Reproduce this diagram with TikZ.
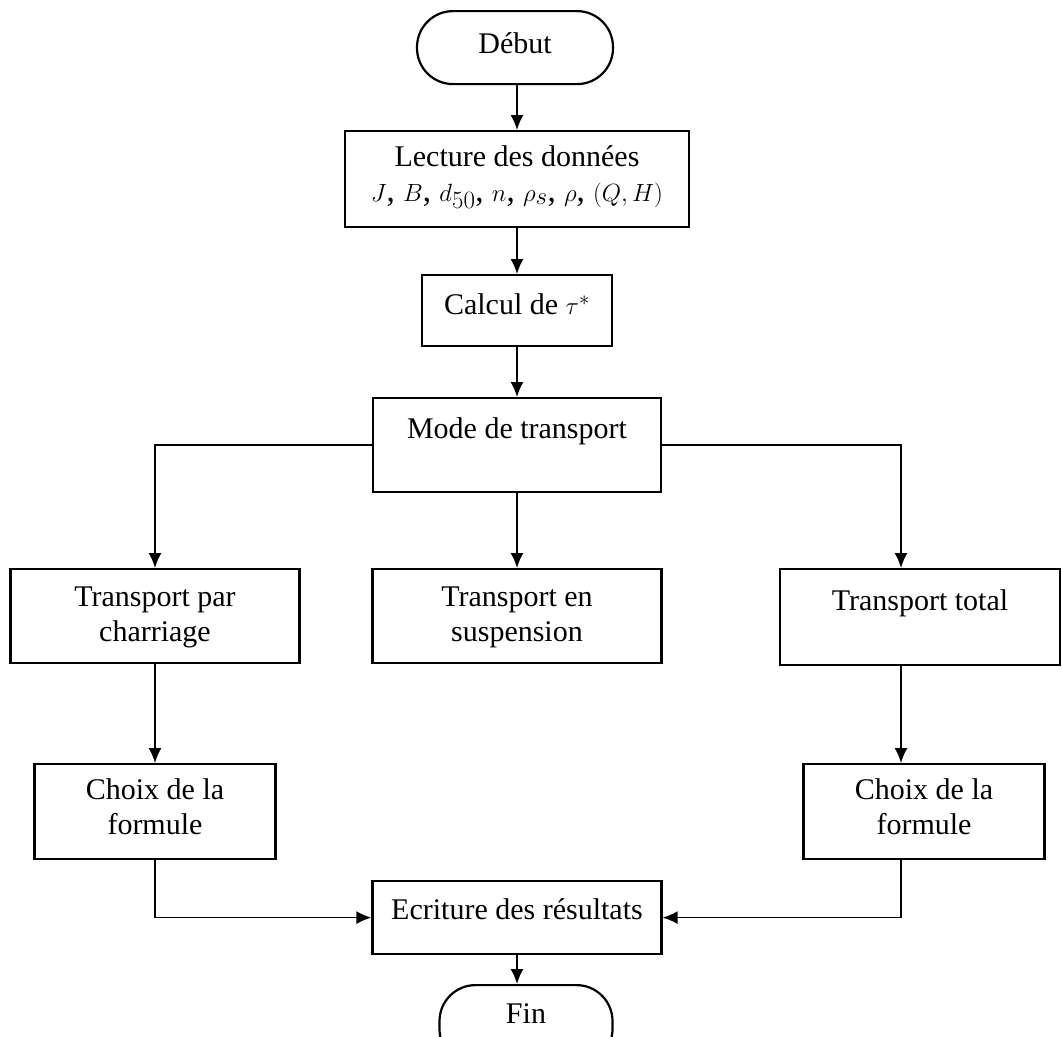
\documentclass[tikz,border=0pt]{standalone}
\usepackage{fontspec}
\setmainfont{Liberation Serif}
\usetikzlibrary{arrows.meta}
\begin{document}
\begin{tikzpicture}[x=1pt, y=-1pt,
    font=\fontsize{30}{35}\selectfont,
    blk/.style 2 args={draw, line width=2.2pt, inner sep=0pt, align=center,
      anchor=north, text height=#1, text depth=#2},
    term/.style 2 args={blk={#1}{#2}, rounded corners=36pt},
    arr/.style={line width=1.7pt, -{Latex[length=15pt,width=13pt]}}]

    \path[use as bounding box, clip] (0,0) rectangle (1062,1036);

    \node[term={42pt}{31pt}, minimum width=196pt] (debut) at (515,10) {Début};
    \node[blk={70pt}{26pt}, minimum width=344pt] (lecture) at (517,130)
        {Lecture des données\\ \fontsize{33}{35}\selectfont $J$, $B$, $d_{50}$, $n$, $\rho_s$, $\rho$, $(Q,H)$};
    \node[blk={39pt}{32pt}, minimum width=190pt] (calc) at (517,274) {Calcul de $\tau^*$};
    \node[blk={40pt}{54pt}, minimum width=288pt] (mode) at (517,397) {Mode de transport};

    \node[blk={72pt}{22pt}, minimum width=289pt] (charr) at (155,568) {Transport par\\ charriage};
    \node[blk={72pt}{22pt}, minimum width=289pt] (susp) at (517,568) {Transport en\\ suspension};
    \node[blk={41pt}{55pt}, minimum width=280pt] (total) at (920,568) {Transport total};

    \node[blk={70pt}{25pt}, minimum width=241pt] (choixL) at (155,763) {Choix de la\\ formule};
    \node[blk={70pt}{25pt}, minimum width=241pt] (choixR) at (924,763) {Choix de la\\ formule};

    \node[blk={38pt}{35pt}, minimum width=289pt] (ecr) at (517,880) {Ecriture des résultats};
    \node[term={38pt}{42pt}, minimum width=173pt] (fin) at (526,984) {Fin};

    \coordinate (rcol) at (901,0);

    \draw[arr] (lecture.north |- debut.south) -- (lecture.north);
    \draw[arr] (lecture) -- (calc);
    \draw[arr] (calc) -- (mode);
    \draw[arr] (mode) -- (susp);
    \draw[arr] (mode.west) -| (charr.north);
    \draw[arr] (mode.east) -| (total.north -| rcol);
    \draw[arr] (charr) -- (choixL);
    \draw[arr] (total.south -| rcol) -- (choixR.north -| rcol);
    \draw[arr] (choixL.south) |- (ecr.west);
    \draw[arr] (choixR.south -| rcol) |- (ecr.east);
    \draw[arr] (ecr.south) -- (ecr.south |- fin.north);

\end{tikzpicture}
\end{document}
